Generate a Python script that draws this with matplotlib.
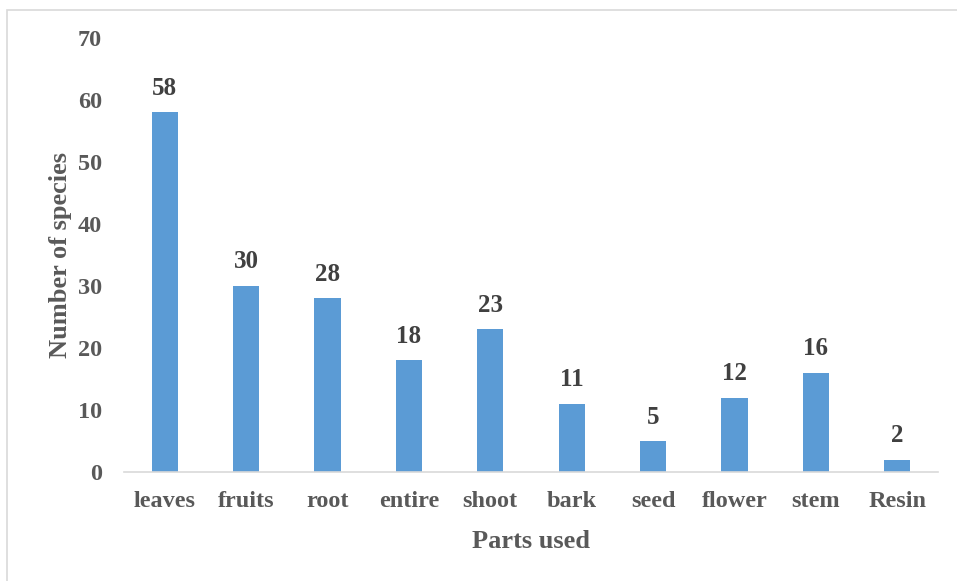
import matplotlib.pyplot as plt
from matplotlib.patches import Rectangle

parts = ["leaves", "fruits", "root", "entire", "shoot", "bark",
         "seed", "flower", "stem", "Resin"]
species = [58, 30, 28, 18, 23, 11, 5, 12, 16, 2]
yticks = [0, 10, 20, 30, 40, 50, 60, 70]

plt.rcParams['font.family'] = ['Liberation Serif', 'DejaVu Serif']
plt.rcParams['font.weight'] = 'bold'

fig = plt.figure(figsize=(9.57, 5.81), dpi=100)
ax = fig.add_axes([124 / 957, 1 - 472 / 581, (938 - 124) / 957, (472 - 38) / 581])

# thin frame around the chart area
fig.patches.append(Rectangle((7 / 957, -0.01), 1.0, 1 - 10 / 581 + 0.01,
                             transform=fig.transFigure, fill=False,
                             edgecolor='#D9D9D9', linewidth=1.2))

x = range(len(parts))
bars = ax.bar(x, species, width=0.32, color='#5B9BD5')
ax.bar_label(bars, labels=[str(v) for v in species], padding=9,
             fontsize=18, fontweight='bold', color='#404040')

ax.set_xlim(-0.5, len(parts) - 0.5)
ax.set_ylim(0, 70)
ax.set_yticks(yticks)
ax.set_xticks(list(x))
ax.set_xticklabels(parts)
ax.tick_params(axis='both', length=0, labelsize=17.5, labelcolor='#595959')
ax.tick_params(axis='x', pad=14)
ax.tick_params(axis='y', pad=16)

for s in ['top', 'right', 'left']:
    ax.spines[s].set_visible(False)
ax.spines['bottom'].set_color('#D9D9D9')
ax.spines['bottom'].set_linewidth(1.2)

ax.set_xlabel('Parts used', fontsize=19, fontweight='bold', color='#595959', labelpad=13)
ax.set_ylabel('Number of species', fontsize=19, fontweight='bold', color='#595959', labelpad=4)

fig.savefig('out.png', dpi=100)
